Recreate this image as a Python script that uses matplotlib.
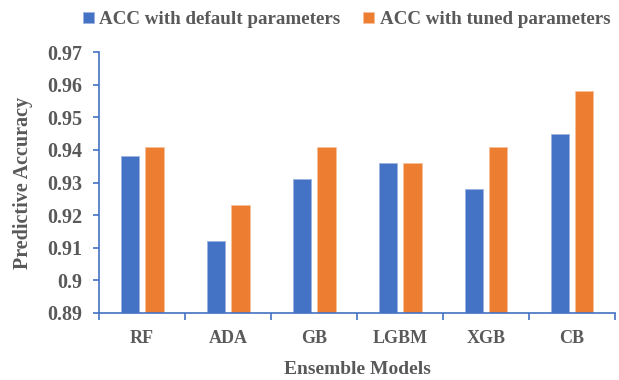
import numpy as np
import matplotlib.pyplot as plt

models = ['RF', 'ADA', 'GB', 'LGBM', 'XGB', 'CB']
acc_default = [0.938, 0.912, 0.931, 0.936, 0.928, 0.945]
acc_tuned = [0.941, 0.923, 0.941, 0.936, 0.941, 0.958]
yticks = [0.89, 0.9, 0.91, 0.92, 0.93, 0.94, 0.95, 0.96, 0.97]
ytick_labels = ['0.89', '0.9', '0.91', '0.92', '0.93', '0.94', '0.95', '0.96', '0.97']

blue = '#4472C4'
orange = '#ED7D31'
gray = '#595959'

plt.rcParams['font.family'] = ['Liberation Serif', 'DejaVu Serif']
plt.rcParams['font.weight'] = 'bold'

fig = plt.figure(figsize=(6.19, 3.80), dpi=100)
ax = fig.add_axes([99/619, 1 - 313/380, 516/619, 261/380])

x = np.arange(len(models))
w = 0.22
ax.bar(x - 0.14, acc_default, w, color=blue, edgecolor='#9db4e0', linewidth=0.6,
       label='ACC with default parameters')
ax.bar(x + 0.14, acc_tuned, w, color=orange, edgecolor='#f6c09b', linewidth=0.6,
       label='ACC with tuned parameters')

ax.set_ylim(0.89, 0.97)
ax.set_xlim(-0.5, len(models) - 0.5)
ax.set_yticks(yticks)
ax.set_yticklabels(ytick_labels)
ax.set_xticks(x)
ax.set_xticklabels(models)
ax.set_xticks(np.arange(len(models) + 1) - 0.5, minor=True)
ax.tick_params(axis='x', which='major', length=0, pad=12, labelsize=13, labelcolor=gray)
ax.tick_params(axis='x', which='minor', length=5, width=1.2, color=blue, direction='out')
ax.tick_params(axis='y', length=4, width=1.2, color=blue, direction='out', labelsize=14.5,
               labelcolor=gray, pad=8)

for s in ['top', 'right']:
    ax.spines[s].set_visible(False)
for s in ['left', 'bottom']:
    ax.spines[s].set_color(blue)
    ax.spines[s].set_linewidth(1.2)

ax.set_xlabel('Ensemble Models', fontsize=14, color=gray, fontweight='bold', labelpad=10)
ax.set_ylabel('Predictive Accuracy', fontsize=14.5, color=gray, fontweight='bold', labelpad=10)

leg = fig.legend(loc='upper center', bbox_to_anchor=(0.56, 1.015), ncol=2, frameon=False,
                 prop={'size': 13.7, 'weight': 'bold'}, handlelength=0.55, handleheight=0.55,
                 handletextpad=0.3, columnspacing=1.2)
for t in leg.get_texts():
    t.set_color(gray)

fig.savefig('out.png', dpi=100)
